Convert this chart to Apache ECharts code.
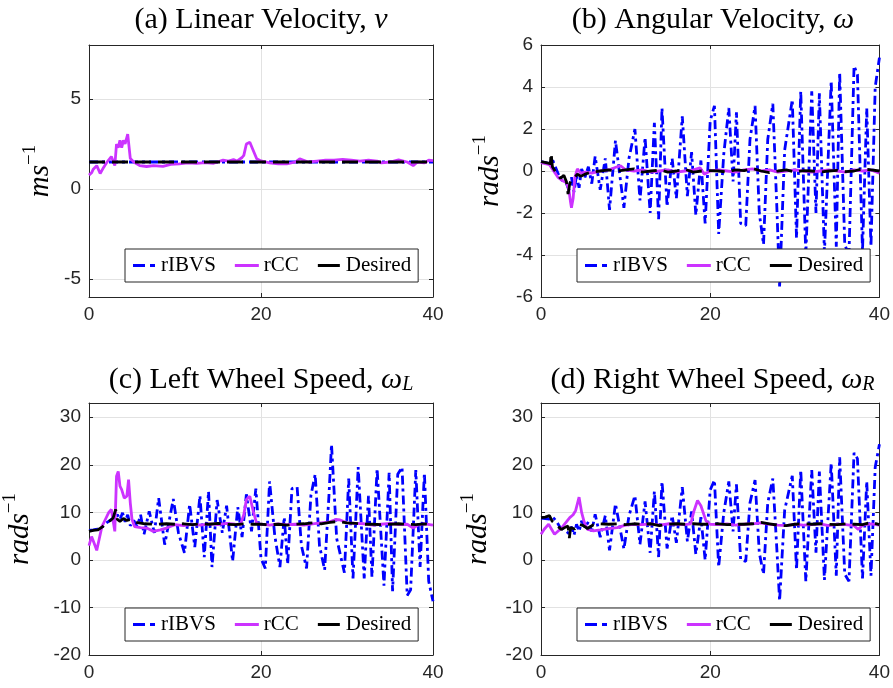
<!DOCTYPE html>
<html><head><meta charset="utf-8">
<script src="https://cdn.jsdelivr.net/npm/echarts@6/dist/echarts.min.js"></script>
<style>html,body{margin:0;padding:0;background:#fff}#c{width:893px;height:688px}</style>
</head><body><div id="c"></div>
<script>
// ---------- data ----------
const xTicks = [0, 20, 40];
const yTicksA = [-5, 0, 5];
const yTicksB = [-6, -4, -2, 0, 2, 4, 6];
const yTicksCD = [-20, -10, 0, 10, 20, 30];
const legendNames = ['rIBVS', 'rCC', 'Desired'];
const titles = [
  '{n|(a) Linear Velocity, }{i|v}',
  '{n|(b) Angular Velocity, }{i|ω}',
  '{n|(c) Left Wheel Speed, }{i|ω}{sub|L}',
  '{n|(d) Right Wheel Speed, }{i|ω}{sub|R}'
];
const yNames = ['{i|ms}{s|−1}', '{i|rads}{s|−1}', '{i|rads}{s|−1}', '{i|rads}{s|−1}'];

// rIBVS (shared time base)
const tIB = [0,0.5,1.0,1.4,1.8,2.2,2.6,3.0,3.3,3.6,3.9,4.2,4.5,4.8,5.2,5.6,6.0,
  6.4,7.0,7.6,8.1,8.8,9.8,10.4,11.1,11.7,12.3,12.9,13.4,13.9,14.3,14.9,15.5,16.0,16.7,17.3,17.8,
  18.3,18.9,19.4,20.0,20.5,21.0,21.6,22.2,22.7,23.1,23.6,24.2,24.7,25.3,25.8,26.3,26.8,27.4,27.9,28.2,
  28.8,29.7,30.2,30.7,31.3,32.0,32.5,32.9,33.5,34.3,34.9,35.3,35.9,36.4,37.0,37.4,38.0,38.5,39.0,39.5,40.0];
const wIB = [0.45,0.4,0.35,0.5,0.1,-0.3,-0.5,-0.6,-0.9,-0.3,-1.0,-0.2,-0.8,0.1,-0.3,0.2,-0.6,
  0.7,-0.9,0.6,-1.85,1.45,-1.75,0.6,2.0,-1.4,1.6,-2.0,2.3,-2.3,3.0,-1.7,0.6,-1.3,2.6,-1.2,0.9,
  -2.1,0.5,-2.5,2.4,3.1,-3.0,0.8,3.0,-0.5,2.8,-2.5,-2.6,1.5,3.1,-2.0,-3.5,1.5,3.2,-2.0,-5.5,
  1.0,3.4,-3.2,3.8,-4.0,3.8,-2.0,3.7,-3.9,4.3,-3.6,4.7,-3.5,-4.0,5.0,4.6,-3.8,3.0,-3.6,4.0,5.4];
const wLIB = [6.2,6.3,6.5,6.6,7.5,8.0,8.5,9.0,9.5,8.5,9.9,8.0,9.5,7.2,8.3,7.0,9.5,
  5.4,10.2,5.7,13.0,3.2,12.8,5.7,1.5,11.7,2.7,13.5,0.6,14.4,-1.5,12.6,5.7,11.4,-0.3,11.1,4.8,
  13.8,6.0,15.0,0.3,-1.8,16.5,5.1,-1.5,9.0,-0.9,15.0,15.3,3.0,-1.8,13.5,18.0,3.0,-2.1,13.5,24.3,
  4.5,-2.7,17.1,-3.9,19.5,-3.9,13.5,-3.6,19.2,-5.4,18.3,-6.6,18.0,19.5,-7.5,-6.3,18.9,-1.5,18.3,-4.5,-8.7];
const wRIB = [8.8,8.7,8.6,9.0,8.2,7.0,6.5,6.0,5.5,7.0,5.2,7.5,6.0,8.2,6.8,8.0,6.0,
  9.6,4.8,9.3,2.0,11.8,2.3,9.3,13.5,3.3,12.3,1.5,14.4,0.6,16.5,2.4,9.3,3.6,15.3,3.9,10.2,
  1.2,9.0,0.0,14.7,16.8,-1.5,9.9,16.5,6.0,15.9,0.0,-0.3,12.0,16.8,1.5,-3.0,12.0,17.1,1.5,-8.6,
  10.5,17.7,-2.1,18.9,-4.5,18.9,1.5,18.6,-4.2,20.4,-3.3,21.6,-3.0,-4.5,22.5,21.3,-3.9,16.5,-3.3,19.5,24.3];
const tA_ib = [0, 10, 20, 30, 40];
const vA_ib = [1.5, 1.5, 1.5, 1.5, 1.5];

// rCC
const tA_rcc = [0,0.3,0.5,0.9,1.3,1.7,2.1,2.6,3.0,3.2,3.4,3.6,3.8,4.0,4.2,4.5,4.8,5.2,5.9,6.7,7.5,8.6,9.5,10.5,11.5,12.5,13.5,14.5,15.6,16.2,16.8,17.2,17.8,18.0,18.3,18.7,19.1,19.5,20.0,21.0,22.0,23.0,24.0,24.5,25.5,26.5,27.5,28.5,29.5,30.5,31.5,32.5,33.5,34.0,35.0,36.0,37.0,37.7,38.2,39.0,39.5,40.0];
const vA_rcc = [0.77,0.9,1.1,1.3,0.86,1.2,1.5,1.8,1.3,2.5,2.3,2.7,2.3,2.7,2.5,3.05,1.7,1.5,1.3,1.25,1.3,1.26,1.37,1.4,1.45,1.42,1.47,1.43,1.6,1.55,1.63,1.55,1.75,1.87,2.5,2.6,2.14,1.68,1.56,1.45,1.4,1.4,1.5,1.68,1.5,1.55,1.6,1.6,1.65,1.6,1.55,1.6,1.55,1.45,1.5,1.62,1.5,1.3,1.5,1.45,1.6,1.58];
const tB_rcc = [0,0.5,1.0,1.5,2.0,2.5,3.0,3.3,3.5,3.6,3.8,4.0,4.3,4.7,5.2,6,6.5,7,8,9,9.4,10,11,12,13,14,15,16,17,18,18.8,19.3,20,21,22,23,24,25,26,27,28,29,30,31,32,33,34,35,36,37,38,39,40];
const vB_rcc = [0.4,0.35,0.3,0.0,-0.3,-0.45,-0.55,-0.9,-1.5,-1.75,-1.3,-0.3,0.1,-0.1,-0.05,-0.1,-0.05,0.0,0.05,0.2,0.25,0.05,0.0,0.05,-0.05,0.0,0.05,-0.05,0.0,0.05,0.15,-0.15,0.0,0.05,0.0,-0.05,0.05,0.1,0.0,0.05,-0.05,0.0,0.05,0.0,-0.05,0.0,0.05,0.0,-0.05,0.05,0.0,0.05,-0.1];
const tC_rcc = [0,0.3,0.6,0.9,1.2,1.5,1.9,2.3,2.6,3.0,3.2,3.4,3.6,3.8,4.1,4.4,4.6,4.8,5.0,5.3,6.0,6.7,7.5,8.3,9.0,10,11,12,13,14,15,16,17,17.6,18.0,18.3,18.7,19.1,19.5,20,21,22,23,24,25,26,27,28,28.7,29.2,30,31,32,33,34,35,36,37,37.7,38.3,39,40];
const vC_rcc = [3.0,4.9,3.5,2.0,4.5,7.0,8.5,10.0,10.6,6.0,17.6,18.6,15.5,14.8,13.0,13.4,16.9,12.0,8.5,7.0,6.8,6.7,6.0,6.3,6.7,7.4,7.2,7.5,7.3,7.6,7.4,7.7,7.5,7.4,9.5,12.7,13.4,10.2,7.7,7.5,7.3,7.6,7.4,7.5,7.3,7.6,7.8,8.0,8.5,8.4,7.8,7.7,7.6,7.3,7.5,7.7,7.4,7.5,6.7,7.4,7.6,7.3];
const tD_rcc = [0,0.4,0.9,1.3,1.6,2.1,2.6,3.0,3.4,3.8,4.1,4.5,4.8,5.1,5.5,6.2,7,8,9,10,11,12,13,14,15,16,17,17.7,18.1,18.5,18.9,19.5,20,21,22,23,24,25,26,27,28,29,30,31,32,33,34,35,36,37,37.5,38,39,40];
const vD_rcc = [5.4,6.5,7.5,6.3,5.4,6.2,7.1,8.0,8.9,9.5,10.4,13.2,10.0,8.0,6.4,6.1,6.3,6.6,6.8,7.3,7.5,7.4,7.6,7.3,7.6,7.5,7.4,7.6,10.4,12.5,11.4,8.2,7.5,7.4,7.6,7.3,7.5,7.6,7.8,7.5,7.3,7.2,7.5,7.3,7.4,7.6,7.2,7.5,7.4,7.2,6.4,7.3,7.6,7.3];

// Desired
const tA_des = [0, 40];
const vA_des = [1.5, 1.5];
const tB_des = [0,0.6,1.1,1.2,1.35,1.8,2.3,2.7,3.0,3.2,3.4,3.6,4.0,4.3,4.7,5.2,6,7,8,9,10,11,12,13,14,15,16,17,18,19,20,21,22,23,24,25,26,27,28,29,30,31,32,33,34,35,36,37,38,39,40];
const vB_des = [0.45,0.4,0.35,0.85,0.2,-0.1,-0.35,-0.2,-0.5,-1.1,-0.6,-0.4,-0.3,-0.15,-0.25,-0.15,-0.05,0,0.05,0,0.05,0.1,-0.05,0,0.05,-0.05,0,0.08,-0.05,0,0.02,0,-0.05,0.05,0.02,0.12,0,-0.08,0,0.05,-0.05,0.02,0,-0.05,0,0.03,-0.03,0,0.1,0.05,0];
const tC_des = [0,0.5,1.0,1.2,1.6,2.0,2.5,2.8,3.1,3.3,3.6,4.0,4.4,4.8,5.5,6.5,8,9,10,11,12,13,14,15,16,17,18,19,20,21,22,23,24,25,26,27,28,29,30,31,32,33,34,35,36,37,38,39,40];
const vC_des = [6.0,6.2,6.3,6.0,7.0,7.7,8.3,8.8,10.6,8.5,8.1,8.7,8.3,8.5,7.9,7.6,7.5,7.6,7.5,7.6,7.4,7.6,7.5,7.7,7.5,7.4,7.6,7.5,7.5,7.4,7.5,7.3,7.5,7.6,7.8,7.6,7.9,8.1,7.8,7.7,7.5,7.5,7.4,7.5,7.6,7.5,7.4,7.6,7.4];
const tD_des = [0,0.5,1.0,1.3,1.8,2.4,2.9,3.2,3.35,3.5,4.0,4.5,5.0,5.5,6.2,7,8,9,10,11,12,13,14,15,16,17,18,19,20,21,22,23,24,25,26,27,28,29,30,31,32,33,34,35,36,37,38,39,40];
const vD_des = [8.9,9.0,9.3,8.2,7.4,6.4,6.9,7.1,4.6,6.8,6.5,7.5,7.2,6.6,7.4,7.6,7.5,7.6,7.4,7.6,7.5,7.6,7.2,7.5,7.6,7.5,7.6,7.5,7.5,7.6,7.4,7.5,7.5,7.6,7.9,7.6,7.3,7.2,7.5,7.6,7.5,7.6,7.5,7.4,7.6,7.5,7.4,7.9,7.4];

// ---------- chart ----------
const zip = (T, V) => T.map((t, i) => [t, V[i]]);
const AX = '#262626';
const grids = [
  {left: 89, top: 45, width: 344, height: 252},
  {left: 541, top: 45, width: 344, height: 252},
  {left: 89, top: 403, width: 344, height: 252},
  {left: 541, top: 403, width: 343, height: 252}
];
const yCfg = [
  {min: -6, max: 8, ticks: yTicksA, gap: 34},
  {min: -6, max: 6, ticks: yTicksB, gap: 36},
  {min: -20, max: 33, ticks: yTicksCD, gap: 54},
  {min: -20, max: 33, ticks: yTicksCD, gap: 48}
];
const labelFont = {color: AX, fontFamily: 'Liberation Sans', fontSize: 19};
const axLine = {show: true, onZero: false, lineStyle: {color: AX, width: 1}};
const xAxes = [], yAxes = [];
grids.forEach((g, i) => {
  xAxes.push({type: 'value', gridIndex: i, min: 0, max: 40, interval: 20,
    axisLine: axLine,
    axisTick: {show: true, inside: true, length: 4, lineStyle: {color: AX}},
    axisLabel: Object.assign({margin: 8, customValues: xTicks}, labelFont),
    splitLine: {show: true, lineStyle: {color: '#e2e2e2', width: 1}}});
});
grids.forEach((g, i) => {
  xAxes.push({type: 'value', gridIndex: i, position: 'top', min: 0, max: 40, interval: 20,
    axisLine: axLine,
    axisTick: {show: true, inside: true, length: 4, lineStyle: {color: AX}},
    axisLabel: {show: false}, splitLine: {show: false}});
});
grids.forEach((g, i) => {
  const c = yCfg[i];
  yAxes.push({type: 'value', gridIndex: i, min: c.min, max: c.max,
    axisLine: axLine,
    axisTick: {show: true, inside: true, length: 4, lineStyle: {color: AX}, customValues: c.ticks},
    axisLabel: Object.assign({margin: 8, customValues: c.ticks}, labelFont),
    splitLine: {show: true, lineStyle: {color: '#e2e2e2', width: 1}},
    name: yNames[i], nameLocation: 'middle', nameGap: c.gap, nameRotate: 90,
    nameTextStyle: {rich: {
      i: {fontFamily: 'Liberation Serif', fontStyle: 'italic', fontSize: 29, color: '#000', lineHeight: 34, verticalAlign: 'bottom'},
      s: {fontFamily: 'Liberation Serif', fontSize: 19, color: '#000', lineHeight: 18, verticalAlign: 'top'}
    }}});
});
grids.forEach((g, i) => {
  const c = yCfg[i];
  yAxes.push({type: 'value', gridIndex: i, position: 'right', min: c.min, max: c.max,
    axisLine: axLine,
    axisTick: {show: true, inside: true, length: 4, lineStyle: {color: AX}, customValues: c.ticks},
    axisLabel: {show: false, customValues: c.ticks}, splitLine: {show: false}});
});

const blueT = [tA_ib, tIB, tIB, tIB], blueV = [vA_ib, wIB, wLIB, wRIB];
const magT = [tA_rcc, tB_rcc, tC_rcc, tD_rcc], magV = [vA_rcc, vB_rcc, vC_rcc, vD_rcc];
const blkT = [tA_des, tB_des, tC_des, tD_des], blkV = [vA_des, vB_des, vC_des, vD_des];
const series = [];
const LW = 2.8;
grids.forEach((g, i) => {
  series.push({name: 'rIBVS', type: 'line', xAxisIndex: i, yAxisIndex: i, symbol: 'none', silent: true,
    data: zip(blueT[i], blueV[i]), itemStyle: {color: '#0000ff'},
    lineStyle: {color: '#0000ff', width: LW, type: [9, 4, 3, 4]}, z: 2});
  series.push({name: 'rCC', type: 'line', xAxisIndex: i, yAxisIndex: i, symbol: 'none', silent: true,
    data: zip(magT[i], magV[i]), itemStyle: {color: '#cc33ff'},
    lineStyle: {color: '#cc33ff', width: LW}, z: 3});
  series.push({name: 'Desired', type: 'line', xAxisIndex: i, yAxisIndex: i, symbol: 'none', silent: true,
    data: zip(blkT[i], blkV[i]), itemStyle: {color: '#000'},
    lineStyle: {color: '#000', width: LW, type: [16, 7]}, z: 4});
});

const legendIcons = [
  'path://M0,0h12v3h-12zM17,0h5v3h-5z',
  'path://M0,0h24v3h-24z',
  'path://M0,0h22v3h-22z'
];
const legends = grids.map((g, i) => ({
  left: g.left + 36, top: g.top + (i < 2 ? 204 : 205),
  orient: 'horizontal', selectedMode: false,
  data: legendNames.map((n, k) => ({name: n, icon: legendIcons[k]})),
  itemWidth: 24, itemHeight: 3, itemGap: 19,
  padding: [6, 7, 6, 8], borderColor: AX, borderWidth: 1, backgroundColor: '#fff',
  textStyle: {fontFamily: 'Liberation Serif', fontSize: 21, color: '#000', lineHeight: 21}
}));

const titleRich = {
  n: {fontFamily: 'Liberation Serif', fontSize: 30, fill: '#000', lineHeight: 36, verticalAlign: 'bottom'},
  i: {fontFamily: 'Liberation Serif', fontStyle: 'italic', fontSize: 30, fill: '#000', lineHeight: 36, verticalAlign: 'bottom'},
  sub: {fontFamily: 'Liberation Serif', fontStyle: 'italic', fontSize: 20, fill: '#000', lineHeight: 18, verticalAlign: 'bottom'}
};
const titleY = [17, 17, 377, 377];
const graphics = grids.map((g, i) => ({
  type: 'text', x: g.left + g.width / 2, y: titleY[i], silent: true,
  style: {text: titles[i], rich: titleRich, align: 'center', verticalAlign: 'middle', fill: '#000'}
}));

const chart = echarts.init(document.getElementById('c'));
chart.setOption({
  animation: false,
  backgroundColor: '#fff',
  grid: grids.map(g => Object.assign({show: false, containLabel: false}, g)),
  xAxis: xAxes, yAxis: yAxes, legend: legends, series: series, graphic: graphics
});
</script></body></html>
